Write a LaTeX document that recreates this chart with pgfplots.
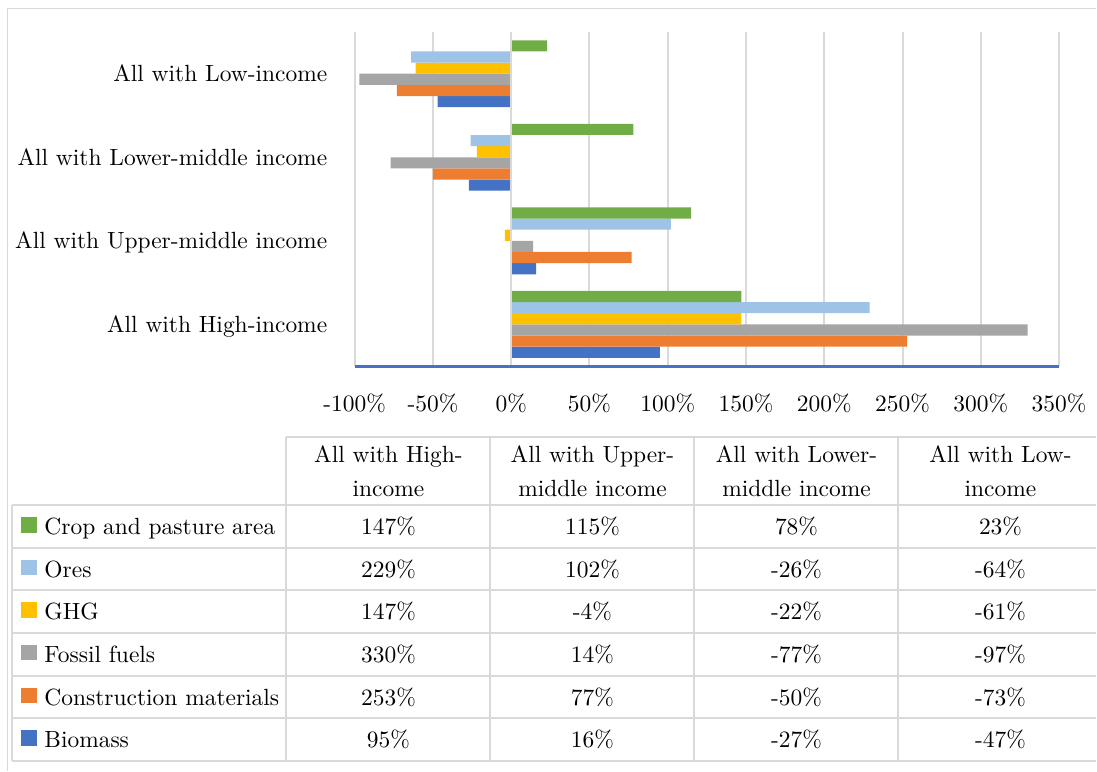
\documentclass[border=0pt]{standalone}
\usepackage{pgfplots}
\usepackage{pgfplotstable}
\pgfplotsset{compat=1.18}

\definecolor{cBiomass}{HTML}{4472C4}
\definecolor{cConstr}{HTML}{ED7D31}
\definecolor{cFossil}{HTML}{A5A5A5}
\definecolor{cGHG}{HTML}{FFC000}
\definecolor{cOres}{HTML}{9DC3E6}
\definecolor{cCrop}{HTML}{70AD47}
\definecolor{gridgray}{HTML}{D9D9D9}

\newcommand\chartfont{\fontsize{9.97}{12}\selectfont}

% change in each indicator, by income group (pos: 0 = High, 1 = Upper-middle, 2 = Lower-middle, 3 = Low)
\pgfplotstableread{
pos biomass construction fossil ghg ores crop
0   95      253          330    147 229  147
1   16      77           14     -4  102  115
2   -27     -50          -77    -22 -26  78
3   -47     -73          -97    -61 -64  23
}\data

\begin{document}
\begin{tikzpicture}[font=\chartfont]
% page frame (1 unit = 1 px of the 1097 x 772 layout, origin top left)
\begin{scope}[x=0.425pt,y=-0.425pt,shift={(0pt,328.1pt)}]
  \path[use as bounding box] (0,0) rectangle (1097,772);
  \draw[gridgray, line width=0.55pt] (7.5,772) -- (7.5,8.5) -- (1097,8.5);
\end{scope}

\begin{axis}[
  at={(150.875pt,172.34pt)}, anchor=south west,
  scale only axis, width=299.625pt, height=142.16pt,
  xmin=-100, xmax=350, ymin=-0.5, ymax=3.5,
  xtick={-100,-50,0,50,100,150,200,250,300,350},
  xticklabels={-100\%,-50\%,0\%,50\%,100\%,150\%,200\%,250\%,300\%,350\%},
  ytick={0,1,2,3},
  yticklabels={All with High-income,All with Upper-middle income,All with Lower-middle income,All with Low-income},
  major tick length=0pt,
  axis line style={draw=none},
  xmajorgrids, ymajorgrids=false,
  major grid style={color=gridgray, line width=0.85pt},
  xticklabel style={font=\chartfont, inner sep=0pt, anchor=base, yshift=-19.34pt},
  yticklabel style={font=\chartfont, inner sep=0pt, anchor=base east, xshift=-11.5pt, yshift=-3.4pt},
  xbar, bar width=4.74pt,
  clip=false,
]
\addplot[xbar, fill=cBiomass, draw=none, bar shift=-11.86pt] table[x=biomass, y=pos] {\data};
\addplot[xbar, fill=cConstr,  draw=none, bar shift=-7.11pt]  table[x=construction, y=pos] {\data};
\addplot[xbar, fill=cFossil,  draw=none, bar shift=-2.37pt]  table[x=fossil, y=pos] {\data};
\addplot[xbar, fill=cGHG,     draw=none, bar shift=2.37pt]   table[x=ghg, y=pos] {\data};
\addplot[xbar, fill=cOres,    draw=none, bar shift=7.11pt]   table[x=ores, y=pos] {\data};
\addplot[xbar, fill=cCrop,    draw=none, bar shift=11.86pt]  table[x=crop, y=pos] {\data};
% category axis at 0, drawn over the bars
\draw[gridgray, line width=0.85pt] (axis cs:0,-0.5) -- (axis cs:0,3.5);
\draw[cBiomass, line width=1.275pt] (rel axis cs:0,0) -- (rel axis cs:1,0);
\end{axis}

% data table below the chart
\begin{scope}[x=0.425pt,y=-0.425pt,shift={(0pt,328.1pt)}]
  \draw[gridgray, line width=0.85pt]
    (286.7,437.7) -- (1097,437.7)
    (12.3,505.7) -- (1097,505.7)
    (12.3,548.3) -- (1097,548.3)
    (12.3,591.0) -- (1097,591.0)
    (12.3,633.7) -- (1097,633.7)
    (12.3,676.4) -- (1097,676.4)
    (12.3,719.0) -- (1097,719.0)
    (12.3,761.6) -- (1097,761.6)
    (12.3,505.7) -- (12.3,761.6)
    (286.7,437.7) -- (286.7,761.6)
    (490.9,437.7) -- (490.9,761.6)
    (695.1,437.7) -- (695.1,761.6)
    (899.3,437.7) -- (899.3,761.6);
  % column headers
  \foreach \cx/\la/\lb in {388.8/All with High-/income,
                           593.0/All with Upper-/middle income,
                           797.2/All with Lower-/middle income,
                           1001.4/All with Low-/income} {
    \node[anchor=base, inner sep=0pt] at (\cx,463.3) {\la};
    \node[anchor=base, inner sep=0pt] at (\cx,496.7) {\lb};
  }
  % rows: legend key, series name and values
  \foreach \ser/\col/\name/\rt in {crop/cCrop/Crop and pasture area/505.7,
                                   ores/cOres/Ores/548.3,
                                   ghg/cGHG/GHG/591.0,
                                   fossil/cFossil/Fossil fuels/633.7,
                                   construction/cConstr/Construction materials/676.4,
                                   biomass/cBiomass/Biomass/719.0} {
    \fill[\col] (21,\rt+12) rectangle (36.7,\rt+27.3);
    \node[anchor=base west, inner sep=0pt] at (44,\rt+29.3) {\name};
    \foreach \c/\cx in {0/388.8,1/593.0,2/797.2,3/1001.4} {
      \pgfplotstablegetelem{\c}{\ser}\of\data
      \node[anchor=base, inner sep=0pt] at (\cx,\rt+29.3) {\pgfplotsretval\%};
    }
  }
\end{scope}
\end{tikzpicture}
\end{document}
